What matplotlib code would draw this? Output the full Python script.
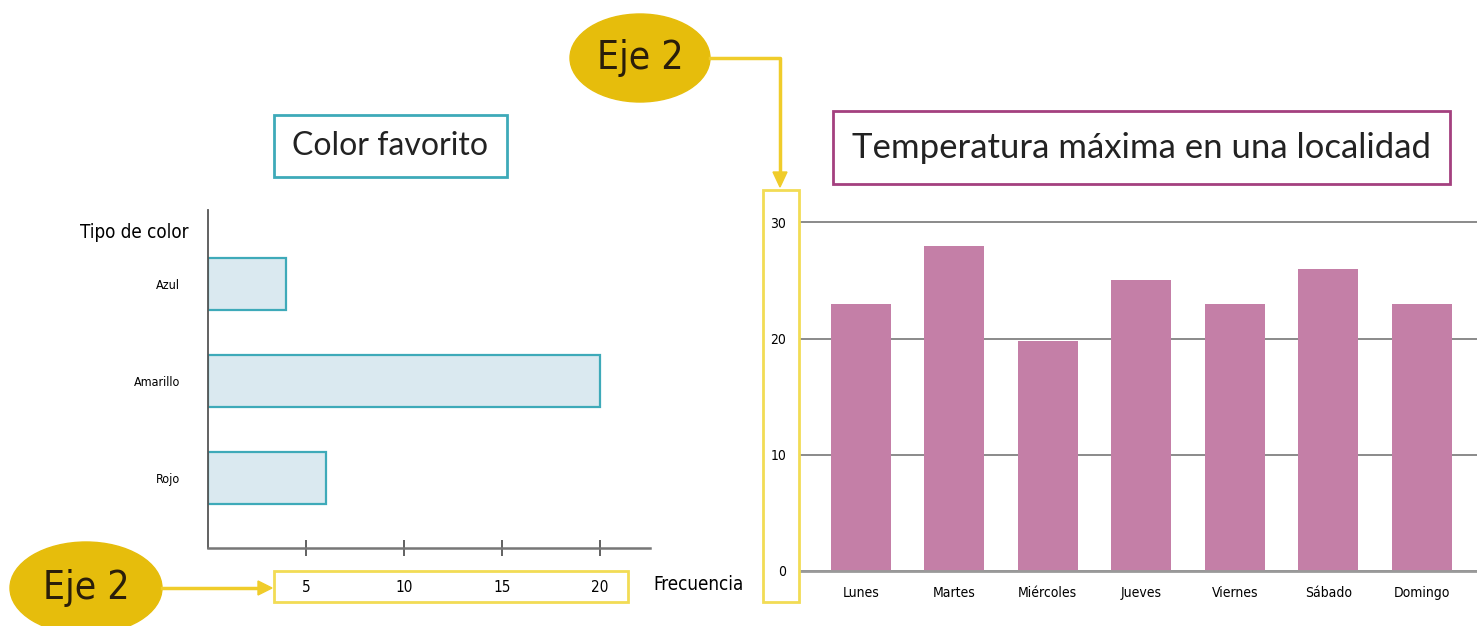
import matplotlib.pyplot as plt
from matplotlib.patches import Ellipse, Rectangle

# Data
colores = ['Rojo', 'Amarillo', 'Azul']
frecuencia = [6, 20, 4]
frec_ticks = [5, 10, 15, 20]

dias = ['Lunes', 'Martes', 'Miércoles', 'Jueves', 'Viernes', 'Sábado', 'Domingo']
temperaturas = [23, 28, 19.8, 25, 23, 26, 23]
temp_ticks = [0, 10, 20, 30]

W, H = 1477, 626
NARROW = dict(family='DejaVu Sans', stretch='condensed')
TITLE = ['Lato', 'DejaVu Sans']
GOLD = '#e6bd0c'
YEL = '#f0cc2a'


def fx(px):
    return px / W


def fy(py):
    return 1 - py / H


fig = plt.figure(figsize=(W / 100, H / 100), dpi=100)

# Left chart: horizontal bars
ax1 = fig.add_axes([fx(208), fy(548), fx(650) - fx(208), fy(210) - fy(548)])
ax1.barh(range(len(colores)), frecuencia, height=0.54, color='#dae9f0',
         edgecolor='#3eaab9', linewidth=1.6)
ax1.set_xlim(0, 22.55)
ax1.set_ylim(-0.72, 2.76)
ax1.set_yticks(range(len(colores)))
ax1.set_yticklabels(colores, fontsize=9, **NARROW)
ax1.tick_params(axis='y', length=0, pad=20)
ax1.set_xticks(frec_ticks)
ax1.set_xticklabels([str(t) for t in frec_ticks], fontsize=11, **NARROW)
ax1.tick_params(axis='x', direction='inout', length=12, width=1.3,
                color='#555555', pad=17)
for s in ['top', 'right']:
    ax1.spines[s].set_visible(False)
ax1.spines['left'].set_color('#555555')
ax1.spines['bottom'].set_color('#777777')
ax1.spines['left'].set_linewidth(1.3)
ax1.spines['bottom'].set_linewidth(1.8)

fig.text(fx(188), fy(233), 'Tipo de color', fontsize=13.5,
         ha='right', va='center', **NARROW)
fig.text(fx(653), fy(585), 'Frecuencia', fontsize=13.5,
         ha='left', va='center', **NARROW)

# Right chart: vertical bars
ax2 = fig.add_axes([fx(800), fy(571), 1 - fx(800), fy(220) - fy(571)])
ax2.bar(range(len(dias)), temperaturas, width=0.64, color='#c47fa7', zorder=2)
ax2.set_xlim(-0.65, 6.59)
ax2.set_ylim(0, 30.2)
ax2.set_yticks(temp_ticks)
ax2.set_yticklabels([str(t) for t in temp_ticks], fontsize=10, **NARROW)
ax2.set_xticks(range(len(dias)))
ax2.set_xticklabels(dias, fontsize=10, **NARROW)
ax2.tick_params(axis='both', length=0)
ax2.tick_params(axis='y', pad=10)
ax2.tick_params(axis='x', pad=11)
ax2.yaxis.grid(True, color='#8a8a8a', linewidth=1.4, zorder=1)
ax2.set_axisbelow(True)
for s in ['top', 'right', 'left']:
    ax2.spines[s].set_visible(False)
ax2.spines['bottom'].set_color('#999999')
ax2.spines['bottom'].set_linewidth(2)


# Title boxes
def title_box(x0, y0, x1, y1, color, text, size):
    fig.patches.append(Rectangle((fx(x0), fy(y1)), fx(x1) - fx(x0), fy(y0) - fy(y1),
                                 transform=fig.transFigure, fill=False,
                                 edgecolor=color, linewidth=2))
    fig.text((fx(x0) + fx(x1)) / 2, (fy(y0) + fy(y1)) / 2, text, family=TITLE,
             fontsize=size, ha='center', va='center', color='#222222')


title_box(274, 115, 507, 177, '#3eaab9', 'Color favorito', 23)
title_box(833, 111, 1450, 184, '#a4407f', 'Temperatura máxima en una localidad', 25)

# Yellow highlight boxes around tick labels
for x0, y0, x1, y1 in [(274, 571, 628, 602), (763, 190, 799, 602)]:
    fig.patches.append(Rectangle((fx(x0), fy(y1)), fx(x1) - fx(x0), fy(y0) - fy(y1),
                                 transform=fig.transFigure, fill=False,
                                 edgecolor='#f2dc55', linewidth=2))

# "Eje 2" callouts
for cx, cy, w, h in [(86, 588, 152, 92), (640, 58, 140, 88)]:
    fig.patches.append(Ellipse((fx(cx), fy(cy)), fx(w), h / H,
                               transform=fig.transFigure, color=GOLD))
    fig.text(fx(cx), fy(cy), 'Eje 2', fontsize=28, ha='center', va='center',
             color='#2a1e0a', **NARROW)

fig.add_artist(plt.Line2D([fx(162), fx(262)], [fy(588), fy(588)], color=YEL,
                          linewidth=2.5, transform=fig.transFigure))
fig.add_artist(plt.Line2D([fx(710), fx(780), fx(780)], [fy(58), fy(58), fy(175)],
                          color=YEL, linewidth=2.5, transform=fig.transFigure))
fig.patches.append(plt.Polygon([[fx(258), fy(581)], [fx(272), fy(588)], [fx(258), fy(595)]],
                               closed=True, color=YEL, transform=fig.transFigure))
fig.patches.append(plt.Polygon([[fx(773), fy(172)], [fx(780), fy(187)], [fx(787), fy(172)]],
                               closed=True, color=YEL, transform=fig.transFigure))

fig.savefig('out.png', dpi=100)
